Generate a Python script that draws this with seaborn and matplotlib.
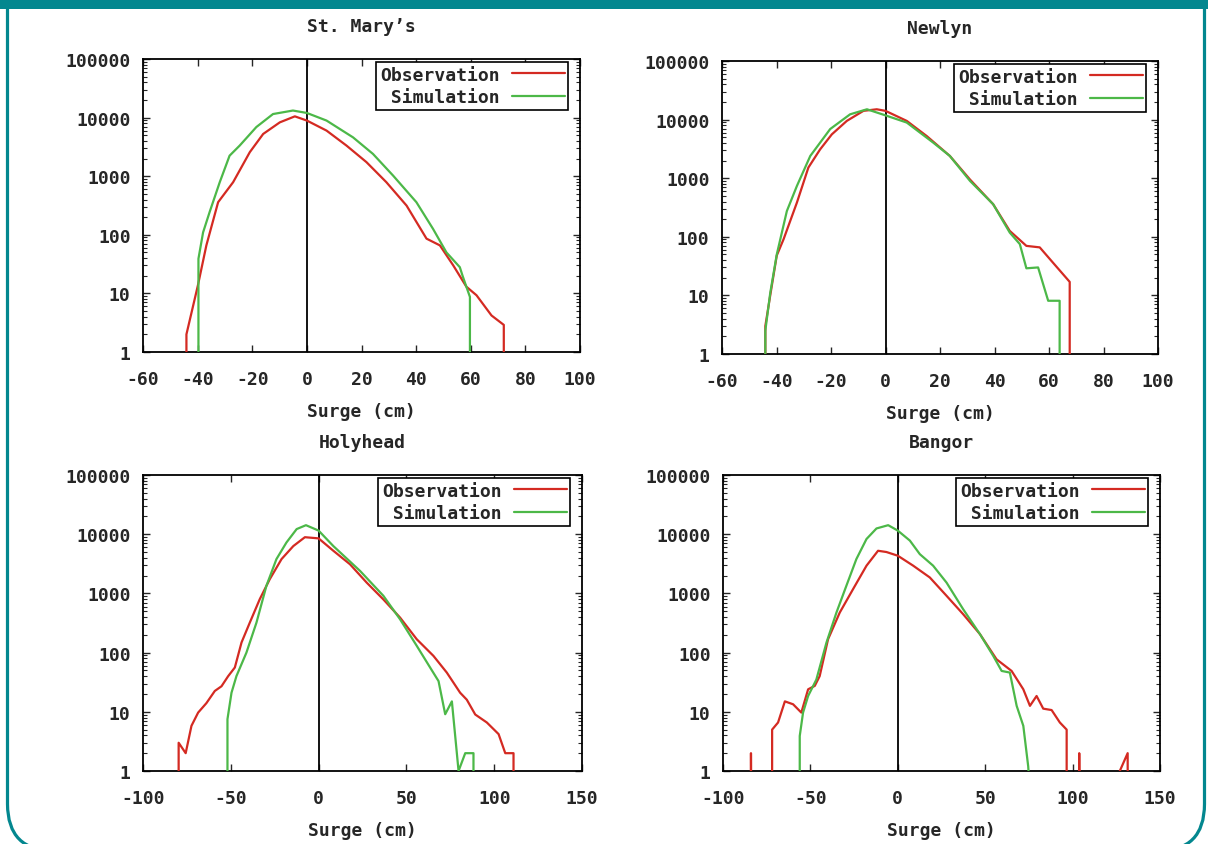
import matplotlib
matplotlib.use("Agg")
import matplotlib.pyplot as plt
import numpy as np
import pandas as pd
import seaborn as sns
from matplotlib.patches import Rectangle, FancyBboxPatch

# Surge frequency counts (0 -> 0.01, falls off the log axis)
stmarys_obs_x = [-44.1, -44.1, -39.9, -36.8, -32.5, -27, -20.9, -16, -9.9, -4.4, 0, 7.2, 14.5, 21.8,
                 29.1, 36.5, 43.8, 48.7, 53.6, 58.4, 62.1, 67.6, 72.1, 72.1]
stmarys_obs_y = [0.01, 2, 13.7, 66, 360, 790, 2570, 5260, 8300, 10500, 8900, 6000, 3330, 1740,
                 790, 315, 86, 66, 30, 13, 9.3, 4.2, 2.9, 0.01]
stmarys_sim_x = [-39.7, -39.7, -38, -35.6, -31.9, -28.3, -24.6, -18.5, -12.4, -5.1, 0, 7.2, 16.9,
                 24.2, 31.6, 40.1, 46.2, 51.1, 56, 57, 59.7, 59.7]
stmarys_sim_y = [0.01, 39, 110, 245, 790, 2240, 3330, 6900, 11500, 13200, 12000, 8900, 4600,
                 2400, 1020, 360, 126, 50, 28, 20, 8.7, 0.01]

newlyn_obs_x = [-44.1, -44.1, -42.3, -39.9, -37.4, -32.5, -28.3, -24, -19.7, -14.2, -8.1, -3.2, 0,
                7.8, 15.1, 23.6, 31, 39.5, 45.6, 51.7, 56.6, 61.5, 67.6, 67.6]
newlyn_obs_y = [0.01, 3, 10, 48, 91, 385, 1520, 3100, 5600, 9500, 14100, 15000, 14100,
                9500, 5250, 2400, 950, 360, 126, 70, 66, 36, 17, 0.01]
newlyn_sim_x = [-44.1, -44.1, -42.3, -39.9, -36.2, -32.5, -27.6, -20.3, -13, -6.8, 0, 7.8, 17.5,
                23.6, 31, 39.5, 45.6, 49.3, 51.7, 56, 59.7, 63.9, 63.9]
newlyn_sim_y = [0.01, 2.5, 11, 50, 275, 740, 2400, 6900, 12300, 15000, 11800, 8900, 4050,
                2400, 900, 360, 118, 75, 29, 30, 8.1, 8.1, 0.01]

holyhead_obs_x = [-79.7, -79.7, -75.7, -72.4, -68.6, -63.9, -59.1, -55.3, -51.5, -47.7, -43.9,
                  -39.2, -33.5, -27.8, -21.1, -14.4, -7.8, 0, 8.4, 17.9, 27.4, 36.9, 46.4, 55.9,
                  65.4, 73, 80.6, 84.4, 89.2, 95.8, 102.5, 106.3, 111, 111]
holyhead_obs_y = [0.01, 3, 2, 5.8, 9.7, 14, 22.5, 27, 40, 56, 148,
                  320, 800, 1740, 3800, 6300, 8900, 8500, 5250, 3100, 1520, 790, 390, 168,
                  88, 46, 21, 16, 9, 6.6, 4.2, 2, 2, 0.01]
holyhead_sim_x = [-51.9, -51.9, -49.6, -46.8, -41.1, -35.4, -29.7, -24, -18.3, -12.5, -7.2, 0,
                  8.4, 23.6, 36.9, 46.4, 55.9, 63.5, 68.3, 72.1, 75.9, 79.7, 83.5, 88.2, 88.2]
holyhead_sim_y = [0.01, 7.5, 21, 40, 100, 320, 1350, 3800, 7250, 12200, 14200, 11500,
                  6300, 2400, 910, 365, 130, 56, 33, 9.1, 15, 1, 2, 2, 0.01]

bangor_obs_x = [-84.2, -84, -83.6, -71.9, -71.9, -68.5, -64.6, -59.9, -55.2, -51.3, -47.5, -44.7,
                -39.9, -33.2, -25.6, -17.9, -11.3, -6.5, 0, 8.8, 18.3, 27.9, 37.4, 47, 56.5,
                65.1, 71.8, 75.6, 79.4, 83.2, 88, 92.7, 96.6, 96.6, 103.6, 103.8, 104.2,
                126.5, 127, 131.5, 131.6]
bangor_obs_y = [0.01, 2, 0.01, 0.01, 5, 6.6, 15, 13.4, 9.7, 24, 27.4, 40,
                168, 475, 1180, 2940, 5250, 5000, 4330, 2940, 1860, 910, 445, 205, 77,
                49, 24, 12.6, 18.5, 11.3, 10.7, 6.6, 5, 0.01, 0.01, 2, 0.01,
                0.01, 1, 2, 0.01]
bangor_sim_x = [-56.1, -56.1, -54.2, -51.3, -46.6, -40.8, -35.1, -29.4, -23.7, -17.9, -12.2,
                -5.5, 0, 6.9, 12.6, 20.2, 27.9, 37.4, 47, 54.6, 59.4, 64.1, 68, 71.8, 74.6, 76]
bangor_sim_y = [0.01, 3.9, 9.7, 18.5, 35, 148, 475, 1350, 3800, 8300, 12500,
                14200, 11500, 7800, 4600, 2940, 1520, 540, 205, 88, 49, 46, 12.6, 5.8, 1.2, 0.3]

titles = ["St. Mary\u2019s", "Newlyn", "Holyhead", "Bangor"]
top_xticks = [-60, -40, -20, 0, 20, 40, 60, 80, 100]
bottom_xticks = [-100, -50, 0, 50, 100, 150]
yticks = [1, 10, 100, 1000, 10000, 100000]
ytick_labels = ["1", "10", "100", "1000", "10000", "100000"]

RED = "#d42a22"
GREEN = "#4cb848"
TEAL = "#03878f"

sns.set_style("ticks")
plt.rcParams["font.family"] = ["DejaVu Sans Mono"]
plt.rcParams["font.weight"] = "bold"

W, H = 1208, 845
fig = plt.figure(figsize=(W / 100, H / 100), dpi=100)

# teal page frame, in pixels with y measured upward
bg = fig.add_axes([0, 0, 1, 1], zorder=-5)
bg.set_xlim(0, W)
bg.set_ylim(0, H)
bg.axis("off")
bg.add_patch(Rectangle((0, H - 10), W, 10, color=TEAL, lw=0))
bg.add_patch(FancyBboxPatch((7.5, H - 852), 1197, 900, boxstyle="round,pad=0,rounding_size=47",
                            fill=False, ec=TEAL, lw=2.3))

def px_rect(l, t, r, b):
    return [l / W, 1 - b / H, (r - l) / W, (b - t) / H]

panels = [
    (px_rect(143, 60, 580, 353), stmarys_obs_x, stmarys_obs_y, stmarys_sim_x, stmarys_sim_y, (-60, 100), top_xticks),
    (px_rect(722, 62, 1158, 355), newlyn_obs_x, newlyn_obs_y, newlyn_sim_x, newlyn_sim_y, (-60, 100), top_xticks),
    (px_rect(143, 476, 582, 772), holyhead_obs_x, holyhead_obs_y, holyhead_sim_x, holyhead_sim_y, (-100, 150), bottom_xticks),
    (px_rect(723, 476, 1160, 772), bangor_obs_x, bangor_obs_y, bangor_sim_x, bangor_sim_y, (-100, 150), bottom_xticks),
]

for title, (rect, ox, oy, sx, sy, xlim, xticks) in zip(titles, panels):
    ax = fig.add_axes(rect)
    ax.axvline(0, color="black", lw=1.3, zorder=1.5)
    sns.lineplot(x=ox, y=oy, ax=ax, color=RED, lw=1.6, estimator=None, sort=False,
                 label="Observation", zorder=3)
    sns.lineplot(x=sx, y=sy, ax=ax, color=GREEN, lw=1.6, estimator=None, sort=False,
                 label=" Simulation", zorder=3)
    ax.set_yscale("log")
    ax.set_ylim(1, 1e5)
    ax.set_xlim(*xlim)
    ax.set_xticks(xticks)
    ax.set_xticklabels([str(v) for v in xticks])
    ax.set_yticks(yticks)
    ax.set_yticklabels(ytick_labels)
    ax.tick_params(axis="both", which="major", direction="in", top=True, right=True,
                   length=5, width=1, labelsize=13)
    ax.tick_params(axis="y", which="minor", direction="in", right=True, length=3, width=0.8)
    ax.tick_params(axis="x", which="major", pad=13)
    ax.tick_params(axis="y", which="major", pad=9)
    for s in ax.spines.values():
        s.set_color("black")
        s.set_linewidth(1.3)
    ax.set_title(title, fontsize=13, fontweight="bold", pad=20)
    ax.set_xlabel("Surge (cm)", fontsize=13, fontweight="bold", labelpad=10)
    ax.set_ylabel("")
    leg = ax.legend(loc="upper right", bbox_to_anchor=(0.973, 0.99), borderaxespad=0,
                    markerfirst=False, fancybox=False, framealpha=1, edgecolor="black",
                    fontsize=13, handlelength=2.9, handletextpad=0.7, borderpad=0.2,
                    labelspacing=0.25)
    leg.get_frame().set_linewidth(1.2)

fig.savefig("out.png", dpi=100)
